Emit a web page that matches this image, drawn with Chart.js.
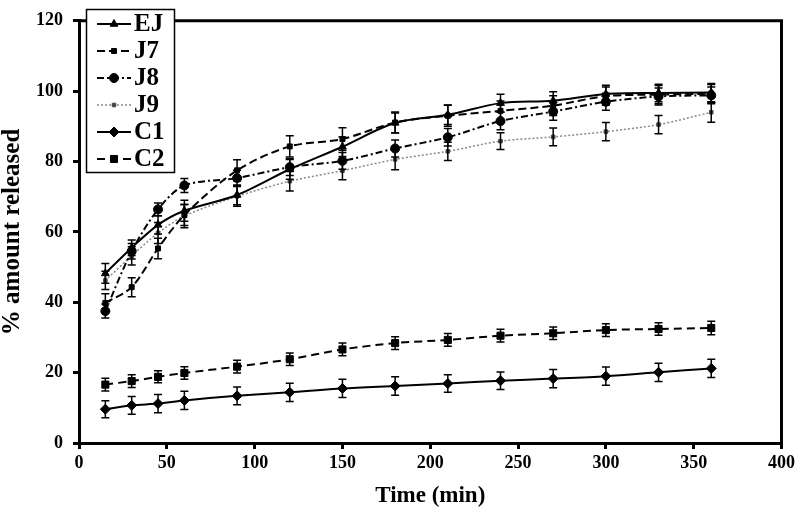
<!DOCTYPE html>
<html>
<head>
<meta charset="utf-8">
<script src="https://cdn.jsdelivr.net/npm/chart.js@4/dist/chart.umd.min.js"></script>
<style>
  html, body { margin: 0; padding: 0; background: #fff; }
  #wrap { width: 799px; height: 514px; }
</style>
</head>
<body>
<div id="wrap"><canvas id="myChart" width="799" height="514"></canvas></div>
<script>
// time points (min)
var times = [15, 30, 45, 60, 90, 120, 150, 180, 210, 240, 270, 300, 330, 360];

// % amount released
var ejValues = [48.2, 55.5, 62.0, 66.0, 70.5, 77.8, 84.2, 91.0, 93.3, 96.6, 97.3, 99.2, 99.5, 99.6];
var j7Values = [39.8, 44.3, 55.3, 64.8, 77.5, 84.3, 86.4, 91.1, 93.0, 94.4, 95.9, 98.6, 99.0, 99.3];
var j8Values = [37.5, 54.5, 66.4, 73.2, 75.3, 78.4, 80.2, 83.7, 86.9, 91.5, 94.2, 97.0, 98.5, 98.8];
var j9Values = [46.2, 53.2, 59.7, 64.5, 70.1, 74.4, 77.4, 80.6, 82.9, 85.8, 87.0, 88.5, 90.5, 94.0];
var c1Values = [9.6, 10.7, 11.2, 12.1, 13.4, 14.4, 15.5, 16.2, 16.9, 17.7, 18.3, 19.0, 20.1, 21.2];
var c2Values = [16.6, 17.6, 18.8, 19.9, 21.7, 23.8, 26.6, 28.4, 29.3, 30.5, 31.2, 32.1, 32.4, 32.7];

// +/- error (SD)
var ejErr = [2.8, 2.2, 2.6, 3.0, 2.8, 2.8, 2.8, 2.8, 2.8, 2.5, 2.5, 2.5, 2.5, 2.6];
var j7Err = [2.6, 2.7, 2.9, 3.0, 3.0, 3.0, 3.2, 3.0, 3.0, 2.8, 2.8, 2.6, 2.6, 2.6];
var j8Err = [2.0, 2.2, 1.8, 2.0, 2.2, 2.4, 2.4, 2.4, 2.5, 2.5, 2.5, 2.4, 2.4, 2.4];
var j9Err = [2.6, 2.6, 3.0, 3.3, 2.8, 2.8, 2.6, 2.9, 2.6, 2.4, 2.5, 2.6, 2.6, 2.8];
var c1Err = [2.4, 2.5, 2.6, 2.6, 2.5, 2.6, 2.6, 2.6, 2.5, 2.5, 2.6, 2.6, 2.6, 2.6];
var c2Err = [1.8, 1.8, 1.7, 1.8, 1.8, 1.8, 1.8, 1.8, 1.8, 1.8, 1.8, 1.8, 1.8, 1.9];

var xTicks = [0, 50, 100, 150, 200, 250, 300, 350, 400];
var yTicks = [0, 20, 40, 60, 80, 100, 120];

var serif = '"Liberation Serif", "Times New Roman", serif';

function pts(vals) {
    return times.map(function (t, i) { return { x: t, y: vals[i] }; });
}

function series(label, vals, err, style) {
    return Object.assign({
        label: label,
        data: pts(vals),
        err: err,
        showLine: true,
        fill: false,
        tension: 0.3,
        borderColor: '#000',
        backgroundColor: '#000',
        pointBorderColor: '#000',
        pointBackgroundColor: '#000',
        borderWidth: 2,
        pointBorderWidth: 1,
        pointRadius: 4
    }, style);
}

// error bars, drawn through the scales
var errorBars = {
    id: 'errorBars',
    afterDatasetsDraw: function (chart) {
        var ctx = chart.ctx;
        var xs = chart.scales.x, ys = chart.scales.y;
        ctx.save();
        ctx.strokeStyle = '#000';
        ctx.lineWidth = 1.5;
        ctx.setLineDash([]);
        chart.data.datasets.forEach(function (ds) {
            ds.data.forEach(function (p, i) {
                var px = xs.getPixelForValue(p.x);
                var top = ys.getPixelForValue(p.y + ds.err[i]);
                var bot = ys.getPixelForValue(p.y - ds.err[i]);
                ctx.beginPath();
                ctx.moveTo(px, top); ctx.lineTo(px, bot);
                ctx.moveTo(px - 4, top); ctx.lineTo(px + 4, top);
                ctx.moveTo(px - 4, bot); ctx.lineTo(px + 4, bot);
                ctx.stroke();
            });
        });
        ctx.restore();
    }
};

// top / right frame
var frame = {
    id: 'frame',
    afterDraw: function (chart) {
        var a = chart.chartArea, ctx = chart.ctx;
        ctx.save();
        ctx.strokeStyle = '#000';
        ctx.lineWidth = 3;
        ctx.beginPath();
        ctx.moveTo(a.left, a.top);
        ctx.lineTo(a.right, a.top);
        ctx.lineTo(a.right, a.bottom);
        ctx.stroke();
        ctx.restore();
    }
};

// boxed legend with line sample + marker
var boxLegend = {
    id: 'boxLegend',
    afterDraw: function (chart) {
        var ctx = chart.ctx;
        ctx.save();
        ctx.fillStyle = '#fff';
        ctx.fillRect(86, 9, 88, 163);
        ctx.strokeStyle = '#000';
        ctx.lineWidth = 1.5;
        ctx.setLineDash([]);
        ctx.strokeRect(86.5, 9.5, 88, 163);
        chart.data.datasets.forEach(function (ds, i) {
            var y = 24 + i * 27;
            ctx.save();
            ctx.strokeStyle = ds.borderColor;
            ctx.lineWidth = ds.borderWidth;
            ctx.setLineDash(ds.borderDash || []);
            ctx.beginPath();
            ctx.moveTo(97, y); ctx.lineTo(131, y);
            ctx.stroke();
            ctx.setLineDash([]);
            ctx.fillStyle = ds.pointBackgroundColor;
            ctx.strokeStyle = ds.pointBorderColor;
            ctx.lineWidth = 1;
            Chart.helpers.drawPoint(ctx, { pointStyle: ds.pointStyle, radius: ds.pointRadius, rotation: 0, borderWidth: 1 }, 114, y);
            ctx.restore();
            ctx.fillStyle = '#000';
            ctx.font = 'bold 25px ' + serif;
            ctx.textBaseline = 'middle';
            ctx.textAlign = 'left';
            ctx.fillText(ds.label, 134, y + 1);
        });
        ctx.restore();
    }
};

var ctx = document.getElementById('myChart');

var myChart = new Chart(ctx, {
    type: 'scatter',
    data: {
        datasets: [
            series('EJ', ejValues, ejErr, { pointStyle: 'triangle', pointRadius: 4.5 }),
            series('J7', j7Values, j7Err, { pointStyle: 'rect', pointRadius: 3.5, borderDash: [8, 4] }),
            series('J8', j8Values, j8Err, { pointStyle: 'circle', pointRadius: 4.5, borderDash: [7, 3, 2, 3] }),
            series('J9', j9Values, j9Err, { pointStyle: 'rect', pointRadius: 2.5, borderWidth: 1.5, borderDash: [2, 2],
                borderColor: '#8a8a8a', pointBackgroundColor: '#444', pointBorderColor: '#444' }),
            series('C1', c1Values, c1Err, { pointStyle: 'rectRot', pointRadius: 5 }),
            series('C2', c2Values, c2Err, { pointStyle: 'rect', pointRadius: 5, borderDash: [8, 5] })
        ]
    },
    options: {
        responsive: false,
        animation: false,
        layout: { padding: { top: 8, right: 15, left: 0, bottom: 0 } },
        plugins: {
            legend: { display: false },
            tooltip: { enabled: false }
        },
        scales: {
            x: {
                type: 'linear',
                min: 0,
                max: 400,
                afterFit: function (scale) { scale.height = 71; },
                afterBuildTicks: function (scale) {
                    scale.ticks = xTicks.map(function (v) { return { value: v }; });
                },
                border: { display: true, color: '#000', width: 3 },
                grid: { display: true, drawOnChartArea: false, drawTicks: true, tickLength: 6, lineWidth: 3, color: '#000' },
                ticks: { color: '#000', padding: 4, maxRotation: 0, font: { family: serif, size: 18, weight: 'bold' } },
                title: {
                    display: true,
                    text: 'Time (min)',
                    color: '#000',
                    padding: { top: 0, bottom: 6 },
                    font: { family: serif, size: 23, weight: 'bold', lineHeight: 1 }
                }
            },
            y: {
                type: 'linear',
                min: 0,
                max: 120,
                afterFit: function (scale) { scale.width = 79; },
                afterBuildTicks: function (scale) {
                    scale.ticks = yTicks.map(function (v) { return { value: v }; });
                },
                border: { display: true, color: '#000', width: 3 },
                grid: { display: true, drawOnChartArea: false, drawTicks: true, tickLength: 6, lineWidth: 3, color: '#000' },
                ticks: { color: '#000', padding: 10, font: { family: serif, size: 18, weight: 'bold' } },
                title: {
                    display: true,
                    text: '% amount released',
                    color: '#000',
                    padding: { top: 0, bottom: 0 },
                    font: { family: serif, size: 25, weight: 'bold', lineHeight: 1 }
                }
            }
        }
    },
    plugins: [errorBars, frame, boxLegend]
});
</script>
</body>
</html>
